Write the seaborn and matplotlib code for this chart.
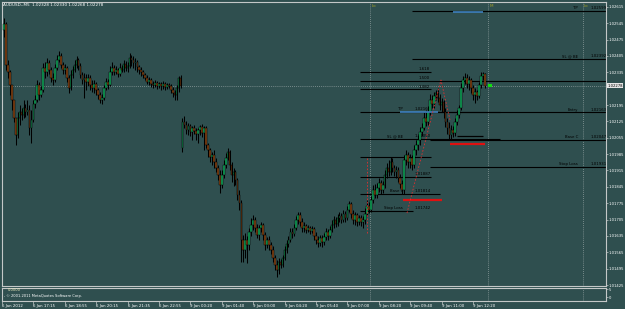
import matplotlib
matplotlib.use("Agg")
import matplotlib.pyplot as plt
import matplotlib.transforms as mtransforms
import numpy as np
import pandas as pd
import seaborn as sns

# ---------------- data ----------------
TITLE = "AUDUSD-,M5  1.02328 1.02330 1.02268 1.02278"

first_open = 1.02516
gap_bar = 91          # first bar after the weekend gap
gap_open = 1.02011

closes = [
    1.02541, 1.02366, 1.02336, 1.02281, 1.02216, 1.02139, 1.02067, 1.02139, 1.02165, 1.02152,
    1.02182, 1.02165, 1.02174, 1.02097, 1.02131, 1.02199, 1.02216, 1.02281, 1.02238, 1.02259,
    1.02353, 1.02336, 1.02375, 1.02345, 1.02311, 1.02302, 1.02353, 1.02387, 1.02405, 1.02366,
    1.02345, 1.02353, 1.02311, 1.02268, 1.02323, 1.02345, 1.02366, 1.02387, 1.02362, 1.02323,
    1.02302, 1.02311, 1.02293, 1.02311, 1.02281, 1.02268, 1.02285, 1.02259, 1.02238, 1.02216,
    1.02225, 1.02268, 1.02293, 1.02281, 1.02336, 1.02353, 1.02336, 1.02345, 1.02328, 1.02353,
    1.02345, 1.02370, 1.02353, 1.02362, 1.02396, 1.02387, 1.02375, 1.02379, 1.02358, 1.02345,
    1.02336, 1.02323, 1.02311, 1.02293, 1.02302, 1.02285, 1.02281, 1.02289, 1.02276, 1.02285,
    1.02276, 1.02285, 1.02272, 1.02281, 1.02276, 1.02259, 1.02246, 1.02238, 1.02268, 1.02311,
    1.02276, 1.02122, 1.02110, 1.02088, 1.02105, 1.02080, 1.02097, 1.02084, 1.02071, 1.02088,
    1.02101, 1.02075, 1.02097, 1.02024, 1.02003, 1.01973, 1.01981, 1.01951, 1.01926, 1.01896,
    1.01853, 1.01896, 1.01938, 1.01968, 1.01994, 1.01938, 1.01896, 1.01909, 1.01874, 1.01810,
    1.01776, 1.01618, 1.01575, 1.01618, 1.01596, 1.01652, 1.01682, 1.01703, 1.01669, 1.01639,
    1.01669, 1.01682, 1.01639, 1.01596, 1.01618, 1.01596, 1.01575, 1.01541, 1.01511, 1.01490,
    1.01524, 1.01511, 1.01541, 1.01575, 1.01601, 1.01618, 1.01652, 1.01643, 1.01669, 1.01703,
    1.01725, 1.01695, 1.01669, 1.01678, 1.01661, 1.01669, 1.01656, 1.01665, 1.01635, 1.01618,
    1.01605, 1.01626, 1.01609, 1.01631, 1.01652, 1.01635, 1.01661, 1.01682, 1.01703, 1.01686,
    1.01712, 1.01720, 1.01703, 1.01729, 1.01712, 1.01746, 1.01772, 1.01729, 1.01703, 1.01725,
    1.01695, 1.01712, 1.01695, 1.01703, 1.01729, 1.01763, 1.01746, 1.01789, 1.01832, 1.01810,
    1.01840, 1.01862, 1.01832, 1.01853, 1.01896, 1.01926, 1.01909, 1.01951, 1.01926, 1.01909,
    1.01917, 1.01883, 1.01857, 1.01832, 1.01960, 1.01981, 1.01951, 1.01968, 1.01938, 1.02003,
    1.02024, 1.02045, 1.02080, 1.02097, 1.02139, 1.02122, 1.02165, 1.02216, 1.02199, 1.02233,
    1.02246, 1.02225, 1.02195, 1.02208, 1.02165, 1.02122, 1.02097, 1.02067, 1.02088, 1.02075,
    1.02122, 1.02152, 1.02182, 1.02268, 1.02302, 1.02311, 1.02285, 1.02302, 1.02268, 1.02238,
    1.02251, 1.02233, 1.02281, 1.02319, 1.02328, 1.02278,
]
highs = [
    1.02567, 1.02550, 1.02387, 1.02345, 1.02281, 1.02216, 1.02139, 1.02165, 1.02195, 1.02182,
    1.02216, 1.02199, 1.02216, 1.02195, 1.02174, 1.02216, 1.02238, 1.02302, 1.02293, 1.02276,
    1.02375, 1.02379, 1.02396, 1.02387, 1.02358, 1.02332, 1.02370, 1.02409, 1.02426, 1.02417,
    1.02379, 1.02370, 1.02362, 1.02323, 1.02345, 1.02362, 1.02387, 1.02405, 1.02396, 1.02375,
    1.02336, 1.02332, 1.02328, 1.02328, 1.02323, 1.02302, 1.02302, 1.02293, 1.02268, 1.02251,
    1.02242, 1.02281, 1.02311, 1.02306, 1.02362, 1.02379, 1.02366, 1.02362, 1.02353, 1.02375,
    1.02366, 1.02387, 1.02383, 1.02379, 1.02417, 1.02409, 1.02405, 1.02396, 1.02387, 1.02366,
    1.02358, 1.02345, 1.02332, 1.02323, 1.02315, 1.02311, 1.02298, 1.02302, 1.02298, 1.02293,
    1.02293, 1.02298, 1.02293, 1.02289, 1.02289, 1.02285, 1.02272, 1.02259, 1.02281, 1.02319,
    1.02323, 1.02139, 1.02148, 1.02127, 1.02118, 1.02114, 1.02105, 1.02110, 1.02097, 1.02097,
    1.02110, 1.02114, 1.02105, 1.02105, 1.02033, 1.02011, 1.01994, 1.02003, 1.01968, 1.01938,
    1.01917, 1.01917, 1.01960, 1.01990, 1.02011, 1.02003, 1.01951, 1.01926, 1.01917, 1.01883,
    1.01832, 1.01789, 1.01639, 1.01648, 1.01635, 1.01669, 1.01712, 1.01725, 1.01716, 1.01686,
    1.01682, 1.01695, 1.01691, 1.01652, 1.01631, 1.01635, 1.01609, 1.01592, 1.01554, 1.01532,
    1.01541, 1.01537, 1.01554, 1.01592, 1.01618, 1.01635, 1.01669, 1.01669, 1.01686, 1.01720,
    1.01737, 1.01737, 1.01712, 1.01695, 1.01686, 1.01682, 1.01678, 1.01678, 1.01673, 1.01652,
    1.01635, 1.01639, 1.01639, 1.01648, 1.01669, 1.01665, 1.01678, 1.01703, 1.01720, 1.01716,
    1.01729, 1.01737, 1.01733, 1.01746, 1.01742, 1.01763, 1.01785, 1.01780, 1.01746, 1.01737,
    1.01733, 1.01725, 1.01725, 1.01720, 1.01755, 1.01789, 1.01780, 1.01806, 1.01853, 1.01857,
    1.01862, 1.01883, 1.01874, 1.01870, 1.01917, 1.01947, 1.01960, 1.01973, 1.01968, 1.01938,
    1.01934, 1.01930, 1.01900, 1.01874, 1.01981, 1.02003, 1.01994, 1.01986, 1.01981, 1.02024,
    1.02045, 1.02067, 1.02101, 1.02118, 1.02165, 1.02174, 1.02191, 1.02242, 1.02238, 1.02251,
    1.02259, 1.02268, 1.02242, 1.02225, 1.02216, 1.02182, 1.02139, 1.02122, 1.02110, 1.02105,
    1.02139, 1.02174, 1.02195, 1.02289, 1.02319, 1.02332, 1.02328, 1.02319, 1.02311, 1.02281,
    1.02268, 1.02259, 1.02293, 1.02336, 1.02336, 1.02330,
]
lows = [
    1.02486, 1.02345, 1.02311, 1.02238, 1.02174, 1.02122, 1.02024, 1.02054, 1.02110, 1.02131,
    1.02139, 1.02144, 1.02152, 1.02067, 1.02033, 1.02122, 1.02182, 1.02208, 1.02216, 1.02229,
    1.02251, 1.02311, 1.02319, 1.02328, 1.02293, 1.02281, 1.02293, 1.02345, 1.02379, 1.02353,
    1.02328, 1.02328, 1.02293, 1.02246, 1.02259, 1.02311, 1.02336, 1.02353, 1.02345, 1.02311,
    1.02285, 1.02225, 1.02259, 1.02276, 1.02259, 1.02251, 1.02246, 1.02238, 1.02221, 1.02204,
    1.02199, 1.02216, 1.02259, 1.02263, 1.02276, 1.02323, 1.02323, 1.02328, 1.02315, 1.02319,
    1.02336, 1.02336, 1.02340, 1.02336, 1.02353, 1.02362, 1.02353, 1.02345, 1.02336, 1.02328,
    1.02319, 1.02311, 1.02302, 1.02285, 1.02281, 1.02272, 1.02268, 1.02272, 1.02263, 1.02268,
    1.02259, 1.02263, 1.02259, 1.02263, 1.02268, 1.02246, 1.02229, 1.02216, 1.02216, 1.02251,
    1.02268, 1.01994, 1.02097, 1.02071, 1.02067, 1.02062, 1.02045, 1.02071, 1.02045, 1.02033,
    1.02067, 1.02058, 1.02003, 1.02011, 1.01973, 1.01951, 1.01938, 1.01926, 1.01909, 1.01874,
    1.01819, 1.01840, 1.01883, 1.01926, 1.01960, 1.01917, 1.01866, 1.01849, 1.01853, 1.01789,
    1.01746, 1.01524, 1.01524, 1.01541, 1.01519, 1.01575, 1.01635, 1.01661, 1.01652, 1.01626,
    1.01618, 1.01652, 1.01618, 1.01575, 1.01584, 1.01575, 1.01558, 1.01524, 1.01490, 1.01460,
    1.01472, 1.01498, 1.01502, 1.01532, 1.01562, 1.01588, 1.01609, 1.01626, 1.01635, 1.01661,
    1.01686, 1.01678, 1.01652, 1.01652, 1.01648, 1.01652, 1.01643, 1.01648, 1.01618, 1.01601,
    1.01588, 1.01592, 1.01588, 1.01596, 1.01618, 1.01618, 1.01626, 1.01652, 1.01669, 1.01673,
    1.01678, 1.01695, 1.01691, 1.01695, 1.01695, 1.01703, 1.01737, 1.01712, 1.01686, 1.01682,
    1.01678, 1.01682, 1.01678, 1.01669, 1.01686, 1.01720, 1.01733, 1.01737, 1.01776, 1.01797,
    1.01797, 1.01823, 1.01815, 1.01819, 1.01840, 1.01883, 1.01891, 1.01896, 1.01909, 1.01891,
    1.01883, 1.01866, 1.01840, 1.01815, 1.01815, 1.01938, 1.01926, 1.01926, 1.01917, 1.01926,
    1.01981, 1.02003, 1.02024, 1.02062, 1.02088, 1.02105, 1.02110, 1.02152, 1.02182, 1.02182,
    1.02216, 1.02208, 1.02174, 1.02165, 1.02139, 1.02101, 1.02071, 1.02045, 1.02045, 1.02058,
    1.02062, 1.02110, 1.02139, 1.02174, 1.02251, 1.02285, 1.02268, 1.02259, 1.02246, 1.02216,
    1.02204, 1.02216, 1.02225, 1.02268, 1.02302, 1.02268,
]

time_ticks = [-1, 15, 31, 47, 63, 79, 95, 111, 127, 143, 159, 175, 191, 207, 223, 239]
time_labels = ["6 Jan 2012", "6 Jan 17:15", "6 Jan 18:55", "6 Jan 20:15", "6 Jan 21:35",
               "6 Jan 22:55", "9 Jan 00:20", "9 Jan 01:40", "9 Jan 03:00", "9 Jan 04:20",
               "9 Jan 05:40", "9 Jan 07:00", "9 Jan 08:20", "9 Jan 09:40", "9 Jan 11:00",
               "9 Jan 12:20"]
price_ticks = [1.02615, 1.02545, 1.02475, 1.02405, 1.02335, 1.02195, 1.02125, 1.02055,
               1.01985, 1.01915, 1.01845, 1.01775, 1.01705, 1.01635, 1.01565, 1.01495, 1.01425]
bid_price = 1.02278

# Fibonacci projection levels (left tool)
fib_names = ["1.618", "1.500", "1.382"]
fib_prices = [1.02337, 1.02299, 1.02262]
fib_ends = [217.6, 306.8, 217.6]

# trade levels, right-hand tool
right_names = ["TP", "SL @ BE", "Entry", "Base C", "Stop Loss"]
right_prices = [1.02599, 1.02392, 1.02163, 1.02047, 1.01931]
right_starts = [208, 208, 217, 217, 217]

# trade levels, left-hand tool
left_names = ["TP", "SL @ BE", "", "Base C", "Stop Loss"]
left_prices = [1.02166, 1.02050, 1.01887, 1.01814, 1.01742]
left_ends = [252.8, 252.8, 217.6, 222.2, 208.5]
extra_level = 1.01974

black_seg_price, black_seg_span = 1.02062, (230.9, 244.1)
red_prices = [1.02028, 1.01789]
red_spans = [(227.3, 245.2), (203.4, 223.2)]
blue_prices = [1.02593, 1.02163]
blue_spans = [(228.8, 244.1), (201.8, 221.2)]

abc_x = [205.4, 222.7, 227.3]
abc_y = [1.01733, 1.02302, 1.02131]
abc_vert_x, abc_vert_y = 184.8, (1.01648, 1.01973)

sep_bars = [186.6, 246.7, 295.0]
sep_names = ["Lo", "M", "Lo"]

ind_x = [-1, 18.9, 210.5, 244.1]
ind_y = [5.4, 5.4, 5.4, 5.4]
ind_seg = ["a", "a", "b", "b"]

# ---------------- style ----------------
BG = "#2F4F4F"
FRAME = "#C4C8C8"
sns.set_theme(style="dark", rc={"axes.facecolor": BG, "figure.facecolor": BG})
plt.rcParams["font.family"] = ["DejaVu Sans"]

W, H = 625, 309
fig = plt.figure(figsize=(W / 100, H / 100), dpi=100)
ax = fig.add_axes([2 / W, 1 - 285.5 / H, 604 / W, 284 / H])
axi = fig.add_axes([2 / W, 1 - 300.5 / H, 604 / W, 13 / H])

XMIN, XMAX = -0.97, 306.8
for a in (ax, axi):
    a.set_facecolor(BG)
    a.set_xlim(XMIN, XMAX)
    for s in a.spines.values():
        s.set_color(FRAME)
        s.set_linewidth(0.8)
        s.set_visible(True)
    a.grid(False)
ax.set_ylim(1.014232, 1.026376)
axi.set_ylim(-1.875, 5.94)

# ---------------- candles ----------------
c = np.array(closes)
o = np.concatenate([[first_open], c[:-1]])
o[gap_bar] = gap_open
h = np.maximum(np.array(highs), np.maximum(o, c))
l = np.minimum(np.array(lows), np.minimum(o, c))
x = np.arange(len(c))
up = c >= o
ax.vlines(x, l, h, color="black", lw=0.75, zorder=3)
body_lo = np.minimum(o, c)
body_h = np.maximum(np.abs(c - o), 0.000025)
ax.bar(x, body_h, bottom=body_lo, width=0.85,
       color=np.where(up, "#12B060", "#8B4513"), edgecolor="black", linewidth=0.35, zorder=4)

# ---------------- drawn levels ----------------
ax.axhline(bid_price, color="#8E9E9E", ls=(0, (1, 1.5)), lw=0.6, zorder=2)
for sb in sep_bars:
    for a in (ax, axi):
        a.axvline(sb, color="#8E9E9E", ls=(0, (1, 1.5)), lw=0.6, zorder=1)
for sb, nm in zip(sep_bars, sep_names):
    ax.text(sb + 0.6, 1.02618, nm, color="#A0A028", fontsize=3, ha="left", va="center")

LX0 = 181.5
for nm, p, e in zip(fib_names, fib_prices, fib_ends):
    ax.hlines(p, LX0, e, color="black", lw=0.8, zorder=2)
    ax.text(211.5, p + 0.00003, nm, color="black", fontsize=2.8, ha="left", va="bottom")

for nm, p, s in zip(right_names, right_prices, right_starts):
    ax.hlines(p, s, XMAX, color="black", lw=0.8, zorder=2)
    ax.text(292.5, p + 0.00003, nm, color="black", fontsize=2.8, ha="right", va="bottom")
    ax.text(298.7, p + 0.00003, f"{p:.5f}", color="black", fontsize=2.8, ha="left", va="bottom")

for nm, p, e in zip(left_names, left_prices, left_ends):
    ax.hlines(p, LX0, e, color="black", lw=0.8, zorder=2)
    if nm:
        ax.text(203.4, p + 0.00003, nm, color="black", fontsize=2.8, ha="right", va="bottom")
    ax.text(209.0, p + 0.00003, f"{p:.5f}", color="black", fontsize=2.8, ha="left", va="bottom")
ax.hlines(extra_level, LX0, 217.6, color="black", lw=0.8, zorder=2)

ax.hlines(black_seg_price, *black_seg_span, color="black", lw=0.9, zorder=5)
for p, sp in zip(red_prices, red_spans):
    ax.hlines(p, *sp, color="#E01010", lw=1.6, zorder=5)
for p, sp in zip(blue_prices, blue_spans):
    ax.hlines(p, *sp, color="#3F82C0", lw=1.2, zorder=5)

ax.plot(abc_x, abc_y, color="#E03030", lw=0.6, ls=(0, (2, 2)), zorder=6)
ax.vlines(abc_vert_x, *abc_vert_y, color="#E03030", lw=0.6, linestyles=(0, (2, 2)), zorder=6)

sns.scatterplot(x=[247.7], y=[bid_price], ax=ax, marker="s", s=7, color="#10E010",
                edgecolor="none", zorder=7, legend=False)

# ---------------- axes text ----------------
ax.set_xticks([])
ax.yaxis.tick_right()
ax.set_yticks(price_ticks)
ax.set_yticklabels([f"{p:.5f}" for p in price_ticks])
ax.tick_params(axis="y", which="both", right=True, left=False, length=1.4, width=0.5,
               pad=0.3, labelsize=2.7, colors=FRAME, labelcolor="white")
ax.set_xlabel("")
ax.set_ylabel("")
ax.text(1.0022, bid_price, "1.02278", transform=mtransforms.blended_transform_factory(ax.transAxes, ax.transData),
        fontsize=2.7, color="black", ha="left", va="center", clip_on=False,
        bbox=dict(boxstyle="square,pad=0.15", fc="#E6E6E6", ec="none"))
fig.text(3 / W, 1 - 5.5 / H, TITLE, fontsize=3, color="white", ha="left", va="center")

# indicator panel
dfi = pd.DataFrame({"x": ind_x, "y": ind_y, "seg": ind_seg})
sns.lineplot(data=dfi, x="x", y="y", units="seg", estimator=None, ax=axi,
             color="#F0F000", lw=1.3, legend=False)
axi.yaxis.tick_right()
axi.set_yticks([5, 0])
axi.set_yticklabels(["5", "0"])
axi.set_xticks(time_ticks)
axi.set_xticklabels(time_labels)
for lab in axi.get_xticklabels():
    lab.set_horizontalalignment("left")
axi.tick_params(axis="y", right=True, left=False, length=1.4, width=0.5, pad=0.3,
                labelsize=2.7, colors=FRAME, labelcolor="white")
axi.tick_params(axis="x", bottom=True, length=2, width=0.5, pad=0.6,
                labelsize=2.8, colors=FRAME, labelcolor="white")
axi.set_xlabel("")
axi.set_ylabel("")
axi.text(2.0, 4.3, "0.0000", fontsize=2.6, color="#F0F0C0", ha="left", va="center")
axi.text(0.0, 0.8, ", \u00a9 2001-2011 MetaQuotes Software Corp.", fontsize=2.6,
         color="white", ha="left", va="center")

fig.savefig("out.png", dpi=100, facecolor=BG)
